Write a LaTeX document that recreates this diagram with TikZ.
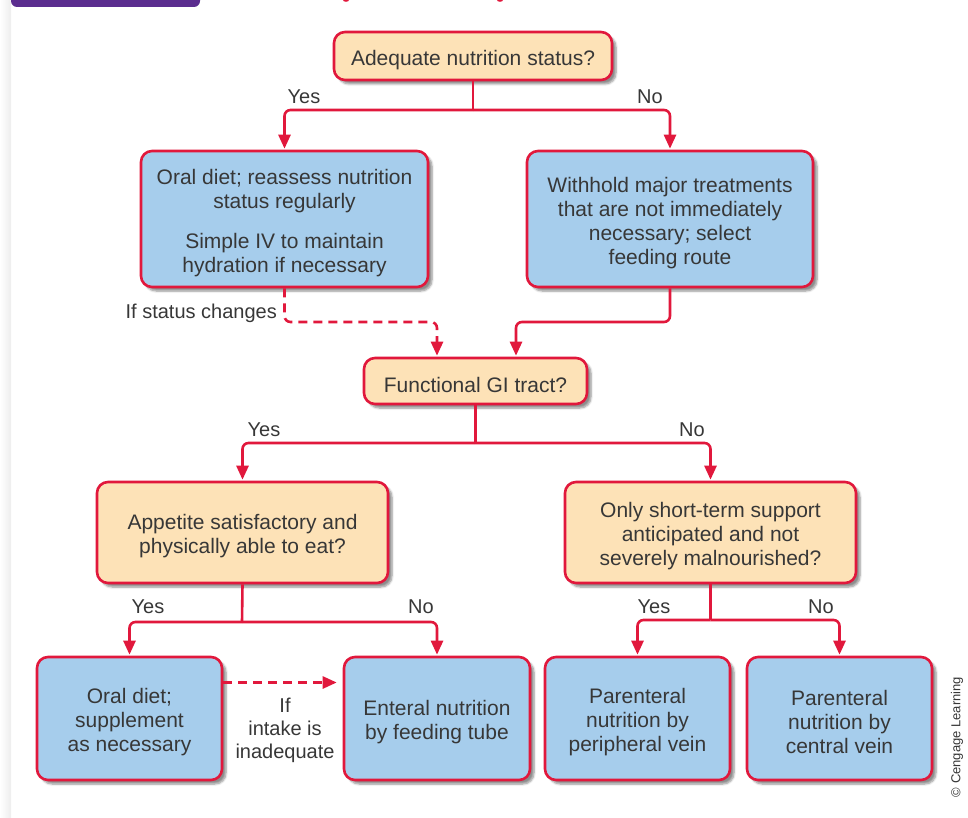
\documentclass[tikz,border=0pt]{standalone}
\usepackage{fontspec}
\setmainfont{Liberation Sans}
\usetikzlibrary{arrows.meta,shadows.blur,calc}
\definecolor{boxred}{RGB}{225,24,60}
\definecolor{qfill}{RGB}{253,226,183}
\definecolor{afill}{RGB}{166,205,236}
\definecolor{txt}{RGB}{55,55,55}
\definecolor{tabpurple}{RGB}{91,45,143}
\newcommand\tpstrut{\rule{0pt}{23pt}}
\begin{document}
\begin{tikzpicture}[x=1pt,y=-1pt,
  box/.style={draw=boxred, line width=2.6pt, rounded corners=11pt, align=center, text=txt,
    font=\fontsize{21}{24}\selectfont, inner sep=0pt,
    blur shadow={shadow xshift=4pt, shadow yshift=-4pt, shadow opacity=45, shadow blur steps=6}},
  qbox/.style={box, fill=qfill},
  abox/.style={box, fill=afill},
  conn/.style={draw=boxred, line width=2.6pt, rounded corners=6pt},
  arr/.style={conn, -{Triangle[length=14pt,width=12pt]}, shorten >=1pt},
  dasharr/.style={arr, dash pattern=on 9pt off 6pt},
  lab/.style={text=txt, font=\fontsize{20}{23}\selectfont, inner sep=0pt, align=center}
]
\useasboundingbox (0,0) rectangle (968,818);
% page decorations
\shade[left color=white, right color=black!7] (0,0) rectangle (11,818);
\fill[tabpurple, rounded corners=6pt] (11,-12) rectangle (200,7);
\fill[boxred] (346,0) ellipse[x radius=3pt, y radius=1.8pt];
\fill[boxred] (500,0) ellipse[x radius=3pt, y radius=1.8pt];

% nodes
\node[qbox, minimum width=278pt, minimum height=48pt] (A) at (473,56) {\tpstrut Adequate nutrition status?};
\node[abox, minimum width=287pt, minimum height=136pt] (B) at (284.5,219)
  {\tpstrut Oral diet; reassess nutrition\\status regularly\\[16pt]Simple IV to maintain\\hydration if necessary};
\node[abox, minimum width=286pt, minimum height=136pt] (C) at (670,219)
  {\tpstrut Withhold major treatments\\that are not immediately\\necessary; select\\feeding route};
\node[qbox, minimum width=223pt, minimum height=46pt] (D) at (475.5,381) {\tpstrut Functional GI tract?};
\node[qbox, minimum width=291pt, minimum height=101pt] (E) at (242.5,532.5)
  {\tpstrut Appetite satisfactory and\\physically able to eat?};
\node[qbox, minimum width=291pt, minimum height=101pt] (F) at (710.5,532.5)
  {\tpstrut Only short-term support\\anticipated and not\\severely malnourished?};
\node[abox, minimum width=185pt, minimum height=123pt] (G) at (129.5,718.5)
  {\tpstrut Oral diet;\\supplement\\as necessary};
\node[abox, minimum width=186pt, minimum height=123pt] (H) at (437,718.5)
  {\tpstrut Enteral nutrition\\by feeding tube};
\node[abox, minimum width=185pt, minimum height=123pt] (I) at (637.5,718.5)
  {\tpstrut Parenteral\\nutrition by\\peripheral vein};
\node[abox, minimum width=185pt, minimum height=123pt] (J) at (839.5,718.5)
  {\tpstrut Parenteral\\nutrition by\\central vein};

% junctions
\coordinate (j1) at (473,110);
\coordinate (j2) at (474,443);
\coordinate (j3) at (242,622);
\coordinate (j4) at (712,620);
\coordinate (k1) at (437,322);
\coordinate (k2) at (516,322);

% connectors
\draw[conn] (A.south) -- (j1);
\draw[arr] (j1) -| (B.north);
\draw[arr] (j1) -| (C.north);
\draw[dasharr] (B.south) |- (k1) -- (k1 |- D.north);
\draw[arr] (C.south) |- (k2) -- (k2 |- D.north);
\draw[conn] (D.south) -- (D.south |- j2);
\draw[arr] (j2) -| (E.north);
\draw[arr] (j2) -| (F.north);
\draw[conn] (E.south) -- (j3);
\draw[arr] (j3) -| (G.north);
\draw[arr] (j3) -| (H.north);
\draw[conn] (F.south) -- (F.south |- j4);
\draw[arr] (F.south |- j4) -| (I.north);
\draw[arr] (F.south |- j4) -| (J.north);
\draw[dasharr] ($(G.east)+(0,-36)$) -- ($(H.west)+(-5,-36)$);

% labels
\node[lab] (y1) at (304,97) {Yes};
\node[lab] (n1) at (650,97) {No};
\node[lab, anchor=east] (sc) at (277,313) {If status changes};
\node[lab] (y2) at (264,430) {Yes};
\node[lab] (n2) at (692,430) {No};
\node[lab] (y3) at (148,607) {Yes};
\node[lab] (n3) at (421,607) {No};
\node[lab] (y4) at (654,607) {Yes};
\node[lab] (n4) at (821,607) {No};
\node[lab] (ii) at (285,730) {If\\intake is\\inadequate};
\node[text=txt, font=\fontsize{13}{14}\selectfont, rotate=90, inner sep=0pt] (cr) at (957,737) {© Cengage Learning};
\end{tikzpicture}
\end{document}
